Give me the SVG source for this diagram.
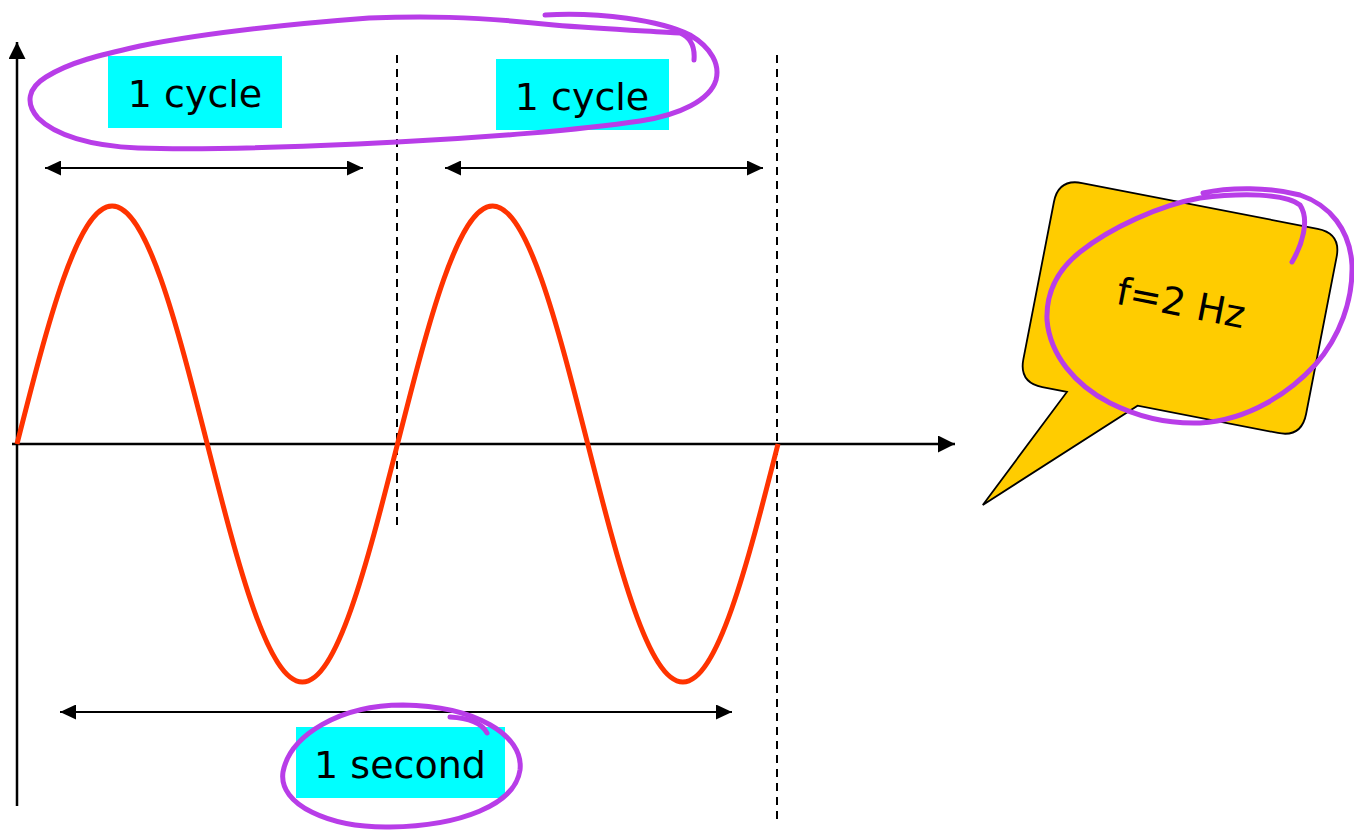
<svg xmlns="http://www.w3.org/2000/svg" width="1354" height="832" viewBox="0 0 1354 832">
<style>
.lbl{font-family:"DejaVu Sans","Liberation Sans",sans-serif;font-size:38px;fill:#000}
.box{fill:#00ffff}
.ax{stroke:#000;stroke-width:2.5;fill:none}
.dim{stroke:#000;stroke-width:2.2;fill:none}
.dash{stroke:#000;stroke-width:2;stroke-dasharray:8 6;fill:none}
.ink{stroke:#b83de8;stroke-width:5;fill:none;stroke-linecap:round;stroke-linejoin:round}
</style>
<defs>
<marker id="ah" viewBox="0 0 10 10" refX="10" refY="5" markerWidth="16" markerHeight="15" markerUnits="userSpaceOnUse" orient="auto-start-reverse" preserveAspectRatio="none">
<path d="M0,0 L10,5 L0,10 Z" fill="#000"/>
</marker>
<marker id="axh" viewBox="0 0 10 10" refX="10" refY="5" markerWidth="17" markerHeight="17" markerUnits="userSpaceOnUse" orient="auto">
<path d="M0,0 L10,5 L0,10 Z" fill="#000"/>
</marker>
</defs>
<rect width="1354" height="832" fill="#fff"/>

<g id="axes">
<line class="ax" x1="17" y1="806" x2="17" y2="42" marker-end="url(#axh)"/>
<line class="ax" x1="12" y1="444" x2="955" y2="444" marker-end="url(#axh)"/>
</g>

<g id="connectors">
<line class="dash" x1="397" y1="55" x2="397" y2="530"/>
<line class="dash" x1="777" y1="55" x2="777" y2="822"/>
<line class="dim" x1="45" y1="168" x2="363" y2="168" marker-start="url(#ah)" marker-end="url(#ah)"/>
<line class="dim" x1="445" y1="168" x2="763" y2="168" marker-start="url(#ah)" marker-end="url(#ah)"/>
<line class="dim" x1="60" y1="712" x2="732" y2="712" marker-start="url(#ah)" marker-end="url(#ah)"/>
</g>

<g id="wave">
<path d="M17,444 C48.02,322.1 77.7,206 112.125,206 C146.55,206 176.23,322.1 207.25,444 C238.27,565.9 267.95,682 302.375,682 C336.8,682 366.48,565.9 397.5,444 C428.52,322.1 458.2,206 492.625,206 C527.05,206 556.73,322.1 587.75,444 C618.77,565.9 648.45,682 682.875,682 C717.3,682 746.98,565.9 778,444" fill="none" stroke="#ff3300" stroke-width="5"/>
</g>

<g id="cycle1">
<rect class="box" x="108" y="56" width="174" height="72"/>
<text class="lbl" x="195" y="107" text-anchor="middle">1 cycle</text>
</g>
<g id="cycle2">
<rect class="box" x="496" y="59" width="173" height="71"/>
<text class="lbl" x="582" y="110" text-anchor="middle">1 cycle</text>
</g>
<g id="second">
<rect class="box" x="296" y="727" width="209" height="71"/>
<text class="lbl" x="400" y="778" text-anchor="middle">1 second</text>
</g>

<g id="bubble">
<g transform="translate(1180,308) rotate(11)">
<path d="M-120,-104 H120 Q144,-104 144,-80 V80 Q144,104 120,104 H-23 L-156,231 L-95,104 H-120 Q-144,104 -144,80 V-80 Q-144,-104 -120,-104 Z" fill="#ffcc00" stroke="#000" stroke-width="1.8" stroke-linejoin="miter"/>
<text class="lbl" x="0" y="8" text-anchor="middle">f=2 Hz</text>
</g>
</g>

<g id="annotations">
<path class="ink" d="M545,15 C600,12 660,20 690,35 C712,48 720,65 716,80 C710,100 680,115 640,121 C580,130 480,138 397,142 C300,147 200,150 138,148 C90,146 55,135 38,118 C25,103 28,88 46,77 C70,62 100,55 140,46 C200,34 290,24 369,18 C420,16 470,16 554,25 C600,29 650,31 680,33 C692,38 695,48 694,60"/>
<path class="ink" d="M403,705 C340,705 290,735 283,772 C278,805 330,828 390,827 C460,826 515,805 520,770 C524,735 475,706 403,705 Z"/>
<path class="ink" d="M450,717 C468,718 482,723 487,733"/>
<path class="ink" d="M1292,262 C1302,245 1310,220 1300,205 C1285,193 1240,193 1200,198 C1160,205 1110,228 1080,252 C1055,272 1046,295 1047,320 C1050,355 1075,385 1110,403 C1140,418 1170,424 1200,423 C1250,420 1290,392 1315,365 C1340,337 1353,300 1352,265 C1350,230 1330,205 1300,195 C1270,187 1230,187 1203,193"/>
</g>
</svg>
